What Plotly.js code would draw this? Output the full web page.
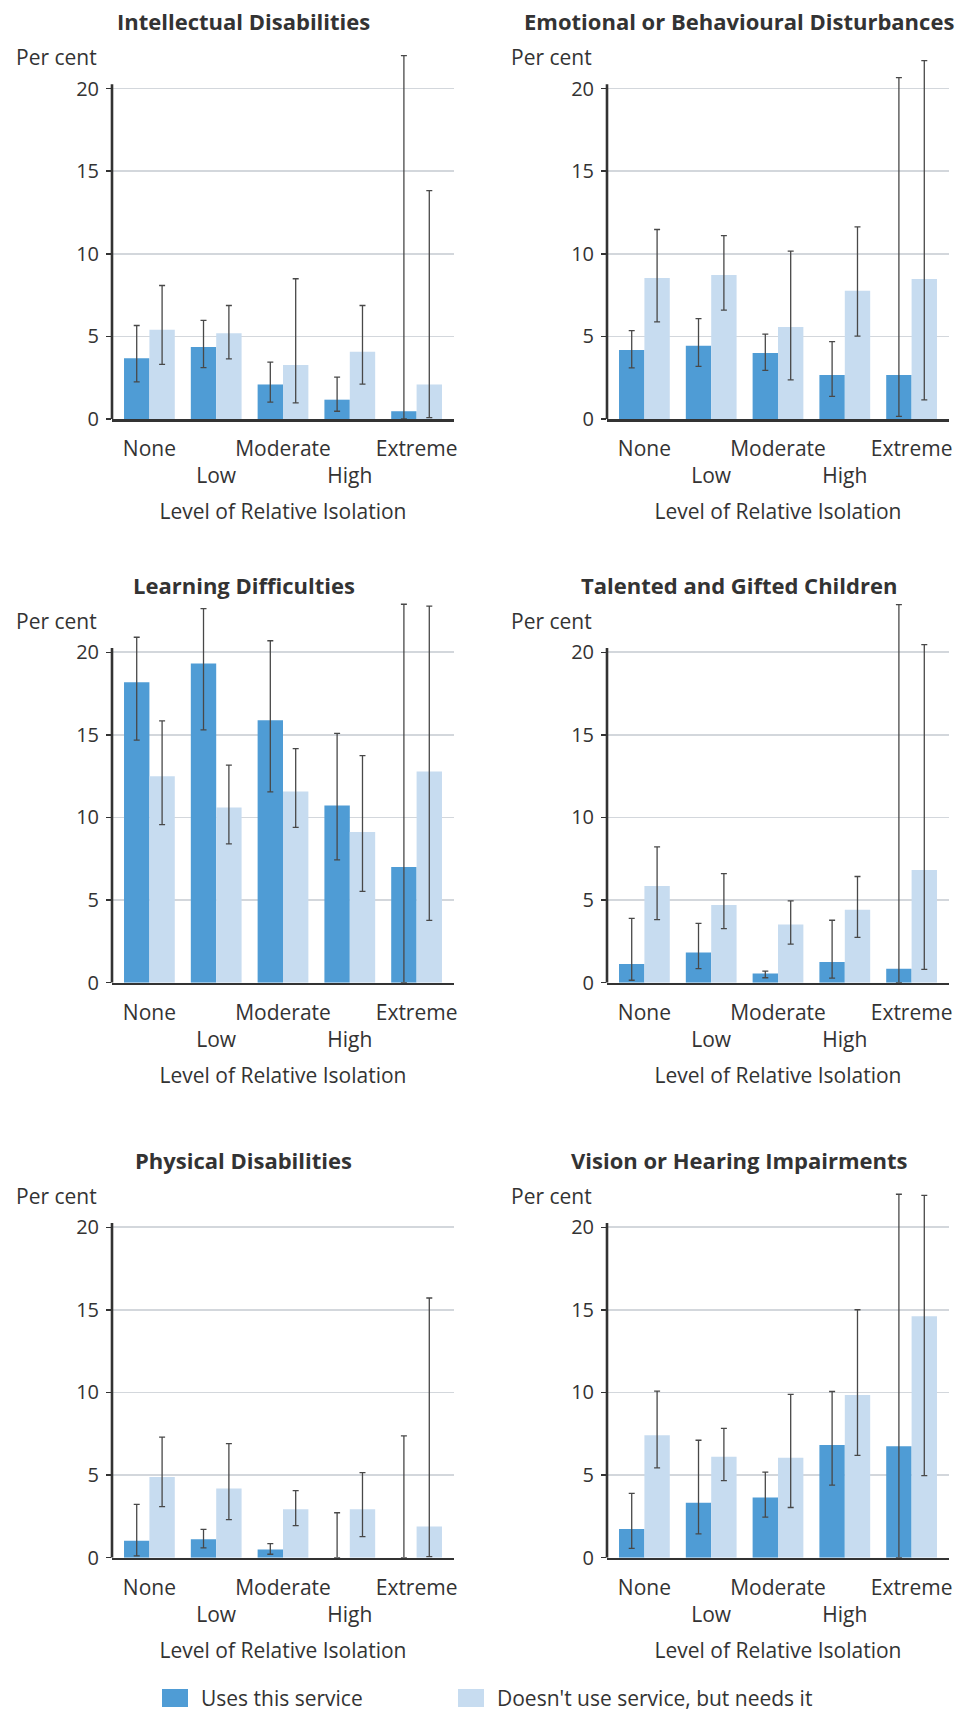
<!DOCTYPE html>
<html>
<head>
<meta charset="utf-8">
<script src="https://cdn.plot.ly/plotly-3.0.1.min.js"></script>
<style>
  html, body { margin: 0; padding: 0; background: #ffffff; }
  #chart { width: 966px; height: 1715px; }
</style>
</head>
<body>
<div id="chart"></div>
<script>
// ---------------- DATA ----------------
const categories = ['None', 'Low', 'Moderate', 'High', 'Extreme'];
const tickLabels = ['None', '\u00a0<br>Low', 'Moderate', '\u00a0<br>High', 'Extreme'];
const seriesNames = ['Uses this service', "Doesn't use service, but needs it"];
const panelTitles = [
  'Intellectual Disabilities',
  'Emotional or Behavioural Disturbances',
  'Learning Difficulties',
  'Talented and Gifted Children',
  'Physical Disabilities',
  'Vision or Hearing Impairments'
];
const yTitle = 'Per cent';
const xTitle = 'Level of Relative Isolation';
const yTicks = [0, 5, 10, 15, 20];

// Intellectual Disabilities
const intellectualUses    = [3.68, 4.36, 2.09, 1.17, 0.47];
const intellectualUsesLo  = [2.25, 3.11, 1.02, 0.47, 0.00];
const intellectualUsesHi  = [5.66, 5.97, 3.44, 2.54, 22.0];
const intellectualNeeds   = [5.40, 5.19, 3.27, 4.07, 2.09];
const intellectualNeedsLo = [3.31, 3.64, 0.98, 2.11, 0.08];
const intellectualNeedsHi = [8.08, 6.87, 8.49, 6.87, 13.82];

// Emotional or Behavioural Disturbances
const emotionalUses    = [4.18, 4.43, 4.00, 2.67, 2.67];
const emotionalUsesLo  = [3.10, 3.18, 2.94, 1.37, 0.16];
const emotionalUsesHi  = [5.35, 6.08, 5.14, 4.69, 20.67];
const emotionalNeeds   = [8.53, 8.71, 5.57, 7.76, 8.47];
const emotionalNeedsLo = [5.88, 6.59, 2.37, 5.02, 1.16];
const emotionalNeedsHi = [11.47, 11.10, 10.16, 11.63, 21.69];

// Learning Difficulties
const learningUses    = [18.19, 19.32, 15.89, 10.72, 7.00];
const learningUsesLo  = [14.68, 15.30, 11.55, 7.43, 0.00];
const learningUsesHi  = [20.91, 22.64, 20.70, 15.09, 22.91];
const learningNeeds   = [12.49, 10.60, 11.57, 9.13, 12.79];
const learningNeedsLo = [9.57, 8.40, 9.40, 5.53, 3.77];
const learningNeedsHi = [15.85, 13.17, 14.17, 13.74, 22.79];

// Talented and Gifted Children
const talentedUses    = [1.13, 1.83, 0.55, 1.25, 0.85];
const talentedUsesLo  = [0.15, 0.85, 0.30, 0.28, 0.00];
const talentedUsesHi  = [3.89, 3.59, 0.70, 3.78, 22.89];
const talentedNeeds   = [5.86, 4.71, 3.52, 4.42, 6.82];
const talentedNeedsLo = [3.82, 3.27, 2.34, 2.74, 0.81];
const talentedNeedsHi = [8.22, 6.60, 4.95, 6.43, 20.47];

// Physical Disabilities
const physicalUses    = [1.02, 1.11, 0.49, 0.00, 0.00];
const physicalUsesLo  = [0.11, 0.60, 0.21, 0.00, 0.00];
const physicalUsesHi  = [3.23, 1.72, 0.85, 2.72, 7.38];
const physicalNeeds   = [4.89, 4.19, 2.94, 2.94, 1.89];
const physicalNeedsLo = [3.09, 2.30, 1.94, 1.28, 0.06];
const physicalNeedsHi = [7.30, 6.91, 4.06, 5.15, 15.72];

// Vision or Hearing Impairments
const visionUses    = [1.74, 3.33, 3.65, 6.82, 6.75];
const visionUsesLo  = [0.57, 1.44, 2.46, 4.39, 0.00];
const visionUsesHi  = [3.89, 7.11, 5.18, 10.06, 22.0];
const visionNeeds   = [7.41, 6.11, 6.05, 9.85, 14.61];
const visionNeedsLo = [5.44, 4.67, 3.04, 6.20, 4.97];
const visionNeedsHi = [10.08, 7.83, 9.89, 15.01, 21.93];

// ---------------- STYLE ----------------
const usesColor = '#4f9cd5';
const needsColor = '#c7dcf0';
const textColor = '#333333';
const fontFamily = '"Open Sans", "Noto Sans", sans-serif';

const panels = [
  [intellectualUses, intellectualUsesLo, intellectualUsesHi, intellectualNeeds, intellectualNeedsLo, intellectualNeedsHi],
  [emotionalUses, emotionalUsesLo, emotionalUsesHi, emotionalNeeds, emotionalNeedsLo, emotionalNeedsHi],
  [learningUses, learningUsesLo, learningUsesHi, learningNeeds, learningNeedsLo, learningNeedsHi],
  [talentedUses, talentedUsesLo, talentedUsesHi, talentedNeeds, talentedNeedsLo, talentedNeedsHi],
  [physicalUses, physicalUsesLo, physicalUsesHi, physicalNeeds, physicalNeedsLo, physicalNeedsHi],
  [visionUses, visionUsesLo, visionUsesHi, visionNeeds, visionNeedsLo, visionNeedsHi]
];

const W = 966, H = 1715;
const yMax = 23.2;       // room above the axis for long error bars
const axisTop = 20.26;   // visible end of the y axis line
const pxPerUnit = 16.52;
const rowZero = [419, 982.7, 1557.7];   // pixel row of the zero line
const colDomains = [[112 / W, 454 / W], [607 / W, 949 / W]];
const rowDomains = rowZero.map(z => [1 - z / H, 1 - (z - yMax * pxPerUnit) / H]);
const titleX = [243.8 / W, 739 / W];
const titleY = rowZero.map(z => 1 - (z - 398) / H);
const perCentX = [14 / W, 509 / W];
const perCentY = rowZero.map(z => 1 - (z - 362) / H);

function errBar(vals, lo, hi) {
  return {
    type: 'data', symmetric: false,
    array: hi.map((h, i) => h - vals[i]),
    arrayminus: lo.map((l, i) => vals[i] - l),
    color: '#484848', thickness: 1.3, width: 3
  };
}

const traces = [];
const layout = {
  width: W, height: H,
  margin: { l: 0, r: 0, t: 0, b: 0 },
  paper_bgcolor: '#ffffff', plot_bgcolor: 'rgba(0,0,0,0)',
  showlegend: false,
  barmode: 'group', bargap: 0.24, bargroupgap: 0,
  font: { family: fontFamily, color: textColor, size: 20 },
  annotations: [], shapes: []
};

panels.forEach((p, k) => {
  const col = k % 2, row = Math.floor(k / 2);
  const sfx = k === 0 ? '' : String(k + 1);
  const xa = 'x' + sfx, ya = 'y' + sfx;
  traces.push({
    type: 'bar', x: categories, y: p[0], name: seriesNames[0],
    xaxis: xa, yaxis: ya, marker: { color: usesColor, line: { width: 0 } },
    error_y: errBar(p[0], p[1], p[2]), hoverinfo: 'none'
  });
  traces.push({
    type: 'bar', x: categories, y: p[3], name: seriesNames[1],
    xaxis: xa, yaxis: ya, marker: { color: needsColor, line: { width: 0 } },
    error_y: errBar(p[3], p[4], p[5]), hoverinfo: 'none'
  });
  layout['xaxis' + sfx] = {
    domain: colDomains[col], anchor: ya,
    type: 'category', range: [-0.56, 4.56],
    tickmode: 'array', tickvals: categories, ticktext: tickLabels,
    tickangle: 0,
    ticks: '', showgrid: false, zeroline: false,
    showline: true, linecolor: '#333333', linewidth: 2.6,
    tickfont: { size: 21, color: textColor, family: fontFamily },
    ticklabelstandoff: 9,
    title: { text: xTitle, font: { size: 21, color: textColor, family: fontFamily }, standoff: 17 },
    automargin: false, fixedrange: true
  };
  layout['yaxis' + sfx] = {
    domain: rowDomains[row], anchor: xa,
    range: [0, yMax], tickmode: 'array', tickvals: yTicks,
    ticks: 'outside', ticklen: 5, tickwidth: 1.5, tickcolor: '#333333',
    showline: false,
    showgrid: true, gridcolor: '#d3d7dc', gridwidth: 1.6, zeroline: false,
    tickfont: { size: 20, color: textColor, family: fontFamily },
    ticklabelstandoff: 3,
    automargin: false, fixedrange: true
  };
  // y axis line drawn only up to just above 20
  layout.shapes.push({
    type: 'line', xref: xa + ' domain', yref: ya,
    x0: 0, x1: 0, y0: 0, y1: axisTop,
    line: { color: '#333333', width: 2.6 }, layer: 'above'
  });
  layout.annotations.push({
    xref: 'paper', yref: 'paper', x: titleX[col], y: titleY[row],
    xanchor: 'center', yanchor: 'middle', showarrow: false,
    text: panelTitles[k],
    font: { size: 22, color: textColor, family: fontFamily, weight: 700 }
  });
  layout.annotations.push({
    xref: 'paper', yref: 'paper', x: perCentX[col], y: perCentY[row],
    xanchor: 'left', yanchor: 'middle', showarrow: false,
    text: yTitle, font: { size: 21, color: textColor, family: fontFamily }
  });
});

// manual legend
const legendItems = [
  { color: usesColor, x0: 162, x1: 188, tx: 199 },
  { color: needsColor, x0: 458, x1: 484, tx: 495 }
];
legendItems.forEach((it, i) => {
  layout.shapes.push({
    type: 'rect', xref: 'paper', yref: 'paper',
    x0: it.x0 / W, x1: it.x1 / W, y0: 1 - 1707 / H, y1: 1 - 1689 / H,
    fillcolor: it.color, line: { width: 0 }
  });
  layout.annotations.push({
    xref: 'paper', yref: 'paper', x: it.tx / W, y: 1 - 1698 / H,
    xanchor: 'left', yanchor: 'middle', showarrow: false,
    text: seriesNames[i], font: { size: 21, color: textColor, family: fontFamily }
  });
});

Plotly.newPlot('chart', traces, layout, { staticPlot: true, displayModeBar: false });
</script>
</body>
</html>
